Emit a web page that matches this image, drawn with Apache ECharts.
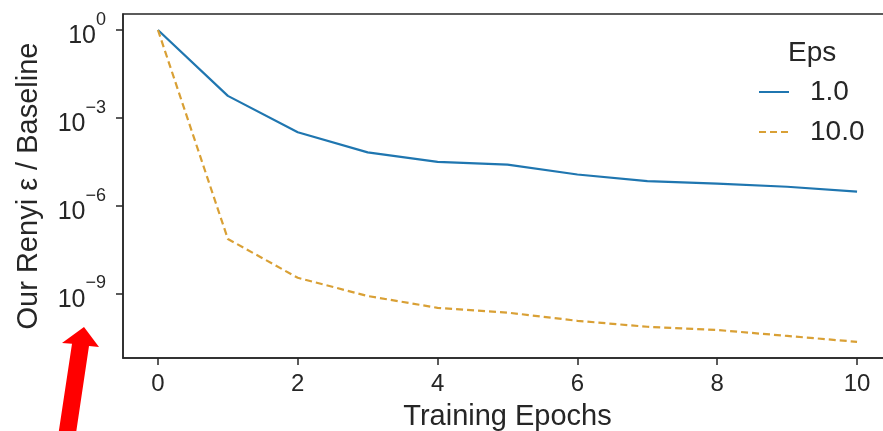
<!DOCTYPE html>
<html>
<head>
<meta charset="utf-8">
<script src="https://cdn.jsdelivr.net/npm/echarts@6/dist/echarts.min.js"></script>
<style>
  html, body { margin: 0; padding: 0; background: #fff; }
  #chart { width: 883px; height: 431px; }
</style>
</head>
<body>
<div id="chart"></div>
<script>
// values (ratio, log scale)
const epochs = [0, 1, 2, 3, 4, 5, 6, 7, 8, 9, 10];
const eps1 = [1, 5.6e-3, 3.2e-4, 6.6e-5, 3.1e-5, 2.5e-5, 1.15e-5, 6.8e-6, 5.6e-6, 4.4e-6, 3.0e-6];
const eps10 = [1, 7.2e-8, 3.4e-9, 8.1e-10, 3.2e-10, 2.2e-10, 1.15e-10, 7.2e-11, 5.6e-11, 3.5e-11, 2.2e-11];
const seriesNames = ['1.0', '10.0'];
const xTicks = [0, 2, 4, 6, 8, 10];
const yTicks = [1e-9, 1e-6, 1e-3, 1];

const font = 'Liberation Sans, Arial, sans-serif';
const ink = '#262626';

const chart = echarts.init(document.getElementById('chart'));

const toPairs = vals => epochs.map((e, i) => [e, vals[i]]);

chart.setOption({
  backgroundColor: '#fff',
  animation: false,
  textStyle: { fontFamily: font, color: ink },
  title: {
    text: 'Eps',
    left: 788,
    top: 39,
    padding: 0,
    textStyle: { fontFamily: font, fontSize: 28, fontWeight: 'normal', color: ink }
  },
  legend: {
    data: seriesNames,
    orient: 'vertical',
    left: 758,
    top: 78,
    padding: 0,
    itemWidth: 30,
    itemHeight: 14,
    itemGap: 12,
    itemStyle: { opacity: 0 },
    textStyle: { fontFamily: font, fontSize: 28, color: ink, padding: [0, 0, 0, 16] }
  },
  grid: {
    show: true,
    outerBoundsMode: 'none',
    containLabel: false,
    left: 123,
    width: 769,
    top: 14,
    bottom: 73,
    borderColor: ink,
    borderWidth: 1.5
  },
  xAxis: {
    type: 'value',
    min: -0.5,
    max: 10.5,
    name: 'Training Epochs',
    nameLocation: 'middle',
    nameGap: 44,
    nameTextStyle: { fontFamily: font, fontSize: 29, color: ink },
    splitLine: { show: false },
    axisLine: { lineStyle: { color: ink, width: 1.5 } },
    axisTick: { customValues: xTicks, length: 7, lineStyle: { color: ink, width: 1.5 } },
    axisLabel: { customValues: xTicks, margin: 14, fontFamily: font, fontSize: 24, color: ink }
  },
  yAxis: {
    type: 'log',
    logBase: 10,
    min: Math.pow(10, -11.21),
    max: Math.pow(10, 0.547),
    name: 'Our Renyi \u03b5 / Baseline',
    nameLocation: 'middle',
    nameGap: 80,
    nameTextStyle: { fontFamily: font, fontSize: 29, color: ink },
    splitLine: { show: false },
    axisLine: { show: true, onZero: false, lineStyle: { color: ink, width: 1.5 } },
    axisTick: { customValues: yTicks, length: 7, lineStyle: { color: ink, width: 1.5 } },
    axisLabel: {
      customValues: yTicks,
      margin: 17,
      formatter: v => {
        const p = Math.round(Math.log10(v));
        return '{b|10}{e|' + (p < 0 ? '\u2212' + (-p) : p) + '}';
      },
      rich: {
        b: { fontFamily: font, fontSize: 25, color: ink, lineHeight: 38, verticalAlign: 'bottom' },
        e: { fontFamily: font, fontSize: 18, color: ink, lineHeight: 18, verticalAlign: 'top' }
      }
    }
  },
  graphic: [
    {
      type: 'polygon',
      z: 100,
      shape: {
        points: [[84, 327], [99, 347], [89, 346], [75, 440], [57.5, 440], [72, 343.7], [62, 343]]
      },
      style: { fill: '#ff0000' }
    }
  ],
  series: [
    {
      name: seriesNames[0],
      type: 'line',
      data: toPairs(eps1),
      symbol: 'none',
      lineStyle: { color: '#1f76b0', width: 2.2 },
      itemStyle: { color: '#1f76b0' }
    },
    {
      name: seriesNames[1],
      type: 'line',
      data: toPairs(eps10),
      symbol: 'none',
      lineStyle: { color: '#d9a035', width: 2.2, type: [7, 4] },
      itemStyle: { color: '#d9a035' }
    }
  ]
});
</script>
</body>
</html>
